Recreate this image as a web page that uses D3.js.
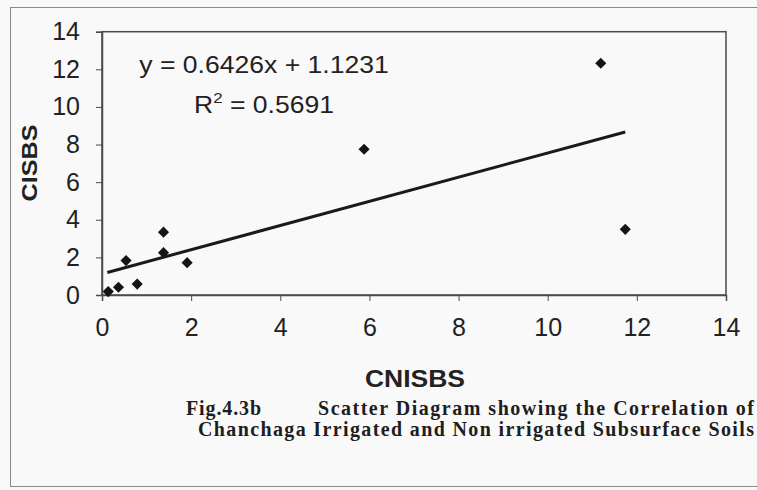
<!DOCTYPE html>
<html>
<head>
<meta charset="utf-8">
<script src="https://cdn.jsdelivr.net/npm/d3@7"></script>
<style>
  html, body { margin: 0; padding: 0; background: #f9f9f9; }
  svg { display: block; }
</style>
</head>
<body>
<svg id="chart" width="757" height="490"></svg>
<script>
// CNISBS (non-irrigated) vs CISBS (irrigated) subsurface soil values
const cnisbs = [0.14, 0.37, 0.54, 0.79, 1.38, 1.38, 1.91, 5.88, 11.19, 11.74];
const cisbs  = [0.18, 0.41, 1.83, 0.58, 3.34, 2.25, 1.72, 7.75, 12.32, 3.49];

// Linear trend line reported on the chart
const slope = 0.6426;
const intercept = 1.1231;
const rSquared = 0.5691;

const xTicks = [0, 2, 4, 6, 8, 10, 12, 14];
const yTicks = [0, 2, 4, 6, 8, 10, 12, 14];

const captionFig = "Fig.4.3b";
const captionLine1 = "Scatter Diagram showing the Correlation of";
const captionLine2 = "Chanchaga Irrigated and Non irrigated Subsurface Soils";

const svg = d3.select("#chart");
const sans = "'Liberation Sans', Arial, sans-serif";
const serif = "'Liberation Serif', 'Times New Roman', serif";
const ink = "#222";

const plot = { left: 102, top: 31.7, right: 726, bottom: 295 };

const x = d3.scaleLinear().domain([0, 14]).range([plot.left, plot.right]);
const y = d3.scaleLinear().domain([0, 14]).range([plot.bottom, plot.top]);

// outer figure frame
svg.append("rect")
  .attr("x", 10.5).attr("y", 7.5)
  .attr("width", 760).attr("height", 479)
  .attr("fill", "none").attr("stroke", "#8a8a8a").attr("stroke-width", 1);

// plot area box
svg.append("rect")
  .attr("x", plot.left).attr("y", plot.top)
  .attr("width", plot.right - plot.left).attr("height", plot.bottom - plot.top)
  .attr("fill", "none").attr("stroke", "#4a4a4a").attr("stroke-width", 1.5);

// axes
const xAxis = svg.append("g")
  .attr("transform", `translate(0,${plot.bottom})`)
  .call(d3.axisBottom(x).tickValues(xTicks).tickSize(6).tickPadding(22).tickFormat(d3.format("d")));
const yAxis = svg.append("g")
  .attr("transform", `translate(${plot.left},0)`)
  .call(d3.axisLeft(y).tickValues(yTicks).tickSize(6).tickPadding(16).tickFormat(d3.format("d")));

[xAxis, yAxis].forEach(g => {
  g.select(".domain").attr("stroke", "#4a4a4a").attr("stroke-width", 1.5);
  g.selectAll(".tick line").attr("stroke", "#4a4a4a").attr("stroke-width", 1);
  g.selectAll(".tick text")
    .attr("fill", ink)
    .style("font-family", sans)
    .style("font-size", "25px");
});
xAxis.selectAll(".tick text").attr("dy", "0.52em");

// trend line over the data range
const xExt = d3.extent(cnisbs);
svg.append("line")
  .attr("x1", x(xExt[0] - 0.02)).attr("y1", y(slope * (xExt[0] - 0.02) + intercept))
  .attr("x2", x(xExt[1])).attr("y2", y(slope * xExt[1] + intercept))
  .attr("stroke", "#1a1a1a").attr("stroke-width", 3);

// data markers
const diamond = d3.symbol().type(d3.symbolSquare).size(62);
svg.append("g").selectAll("path")
  .data(d3.zip(cnisbs, cisbs))
  .join("path")
  .attr("d", diamond)
  .attr("transform", d => `translate(${x(d[0])},${y(d[1])}) rotate(45)`)
  .attr("fill", "#151515");

// equation and R² labels (slightly widened type)
const eq = svg.append("g").attr("transform", "translate(264,0) scale(1.13,1)");
eq.append("text")
  .attr("x", 0).attr("y", 73.3)
  .attr("text-anchor", "middle")
  .attr("fill", ink)
  .style("font-family", sans).style("font-size", "23.5px")
  .text(`y = ${slope}x + ${intercept}`);

const r2 = eq.append("text")
  .attr("x", 0).attr("y", 113.3)
  .attr("text-anchor", "middle")
  .attr("fill", ink)
  .style("font-family", sans).style("font-size", "23.5px");
r2.append("tspan").text("R");
r2.append("tspan").attr("dy", -10).style("font-size", "15px").text("2");
r2.append("tspan").attr("dy", 10).text(` = ${rSquared}`);

// axis titles
svg.append("text")
  .attr("x", 415).attr("y", 387.3)
  .attr("text-anchor", "middle")
  .attr("textLength", 100).attr("lengthAdjust", "spacingAndGlyphs")
  .attr("fill", ink)
  .style("font-family", sans).style("font-size", "24px").style("font-weight", "bold")
  .text("CNISBS");

svg.append("text")
  .attr("transform", "translate(37.3,163) rotate(-90)")
  .attr("text-anchor", "middle")
  .attr("textLength", 77).attr("lengthAdjust", "spacingAndGlyphs")
  .attr("fill", ink)
  .style("font-family", sans).style("font-size", "22px").style("font-weight", "bold")
  .text("CISBS");

// figure caption
const cap = (txt, xPos, yPos, len) => svg.append("text")
  .attr("x", xPos).attr("y", yPos)
  .attr("textLength", len).attr("lengthAdjust", "spacing")
  .attr("fill", "#1e1e1e")
  .style("font-family", serif).style("font-size", "20px").style("font-weight", "bold")
  .text(txt);

cap(captionFig, 186, 415, 75);
cap(captionLine1, 318, 415, 436);
cap(captionLine2, 198, 436, 556);
</script>
</body>
</html>
